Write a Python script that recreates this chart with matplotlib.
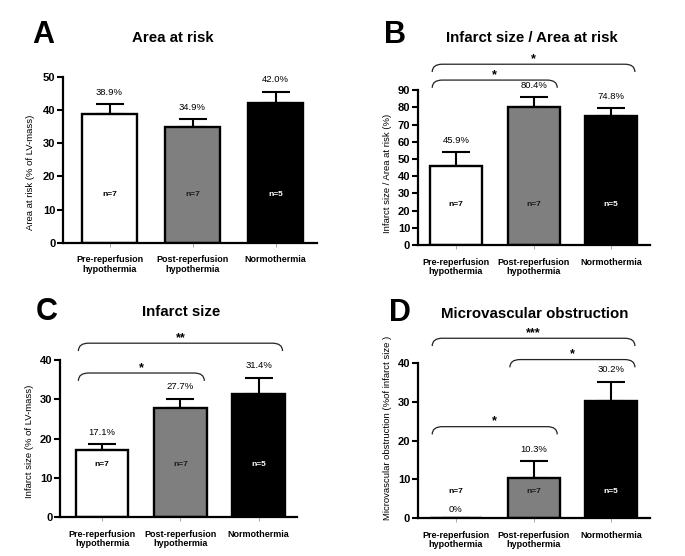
import matplotlib
matplotlib.use("Agg")
import matplotlib.pyplot as plt
from matplotlib.path import Path
from matplotlib.patches import PathPatch
import numpy as np

plt.rcParams["font.family"] = ["Liberation Sans", "DejaVu Sans"]

groups = ["Pre-reperfusion\nhypothermia", "Post-reperfusion\nhypothermia", "Normothermia"]
n_labels = ["n=7", "n=7", "n=5"]

area_risk = [38.9, 34.9, 42.0]
area_risk_err = [2.8, 2.4, 3.5]
infarct_aar = [45.9, 80.4, 74.8]
infarct_aar_err = [8.1, 5.5, 4.7]
infarct = [17.1, 27.7, 31.4]
infarct_err = [1.5, 2.5, 4.1]
mvo = [0.0, 10.3, 30.2]
mvo_err = [0.0, 4.4, 5.0]

# (bar i, bar j, stars, bracket height in data units)
sig_b = [(0, 1, "*", 95.8), (0, 2, "*", 105.0)]
sig_c = [(0, 1, "*", 36.7), (0, 2, "**", 44.3)]
sig_d = [(0, 1, "*", 23.6), (1, 2, "*", 40.9), (0, 2, "***", 46.4)]

bar_colors = ["white", "#7f7f7f", "black"]
n_colors = ["black", "#1a1a1a", "white"]
W = 0.67


def bracket(ax, x0, x1, y, drop, label):
    rx = 0.13
    verts = [(x0, y - drop), (x0, y), (x0 + rx, y),
             (x1 - rx, y), (x1, y), (x1, y - drop)]
    codes = [Path.MOVETO, Path.CURVE3, Path.CURVE3,
             Path.LINETO, Path.CURVE3, Path.CURVE3]
    ax.add_patch(PathPatch(Path(verts, codes), fill=False, lw=0.9,
                           color="#222222", clip_on=False))
    ax.annotate(label, ((x0 + x1) / 2, y), xytext=(0, 1.5), textcoords="offset points",
                ha="center", va="baseline", fontsize=9, fontweight="bold",
                annotation_clip=False)


def panel(fig, rect, vals, errs, ymax, ylabel, ylab_y, n_y, xlim, sigs=()):
    ax = fig.add_axes(rect)
    x = np.arange(len(vals))
    ax.bar(x, vals, width=W, color=bar_colors, edgecolor="black", linewidth=1.7, zorder=2)
    ax.errorbar(x, vals, yerr=[np.zeros(len(errs)), errs], fmt="none", ecolor="black",
                elinewidth=1.5, capsize=10, capthick=1.5, zorder=1)
    for i in range(len(vals)):
        ax.annotate(f"{vals[i]:.1f}%" if vals[i] > 0 else "0%", (x[i], vals[i] + errs[i]),
                    xytext=(0, 8.5 if vals[i] > 0 else 6.5), textcoords="offset points",
                    ha="center", va="center", fontsize=6.8)
        ax.text(x[i], n_y, n_labels[i], ha="center", va="center", fontsize=6,
                fontweight="bold", color=n_colors[i], zorder=3)
    for i, j, lab, y in sigs:
        bracket(ax, i - W / 2 + 0.03, j + W / 2 - 0.03, y, 0.05 * ymax, lab)
    ax.set_xlim(*xlim)
    ax.set_ylim(0, ymax)
    ax.set_yticks(np.arange(0, ymax + 1, 10))
    ax.set_xticks(x)
    ax.set_xticklabels(groups, fontsize=6.5, fontweight="bold", linespacing=1.1)
    for t in ax.get_yticklabels():
        t.set_fontweight("bold")
        t.set_fontsize(8)
    ax.tick_params(axis="y", length=4, width=1.5, pad=1.5)
    ax.tick_params(axis="x", length=3, width=0.6, color="#999999", pad=6)
    for s in ["top", "right"]:
        ax.spines[s].set_visible(False)
    for s in ["left", "bottom"]:
        ax.spines[s].set_linewidth(1.6)
    ax.set_ylabel(ylabel, fontsize=6.8)
    ax.yaxis.set_label_coords(-0.11, ylab_y)
    return ax


fig = plt.figure(figsize=(6.85, 5.56), dpi=100)

panel(fig, [0.092, 0.563, 0.371, 0.299], area_risk, area_risk_err, 50,
      "Area at risk (% of LV-mass)", 0.425, 14.5, (-0.56, 2.5))
panel(fig, [0.610, 0.559, 0.339, 0.279], infarct_aar, infarct_aar_err, 90,
      "Infarct size / Area at risk (%)", 0.465, 23.8, (-0.49, 2.5), sig_b)
panel(fig, [0.0876, 0.070, 0.346, 0.2824], infarct, infarct_err, 40,
      "Infarct size (% of LV-mass)", 0.485, 13.5, (-0.54, 2.49), sig_c)
panel(fig, [0.610, 0.068, 0.339, 0.279], mvo, mvo_err, 40,
      "Microvascular obstruction (%of infarct size )", 0.584, 7.0, (-0.49, 2.5), sig_d)

letters = [("A", 0.0628, 0.937), ("B", 0.577, 0.937), ("C", 0.0686, 0.439), ("D", 0.584, 0.437)]
titles = [("Area at risk", 0.252, 0.932), ("Infarct size / Area at risk", 0.777, 0.932),
          ("Infarct size", 0.264, 0.439), ("Microvascular obstruction", 0.781, 0.435)]
for lab, fx, fy in letters:
    fig.text(fx, fy, lab, fontsize=22, fontweight="bold", ha="center", va="center")
for lab, fx, fy in titles:
    fig.text(fx, fy, lab, fontsize=10.8, fontweight="bold", ha="center", va="center")

fig.savefig("out.png", dpi=100)
